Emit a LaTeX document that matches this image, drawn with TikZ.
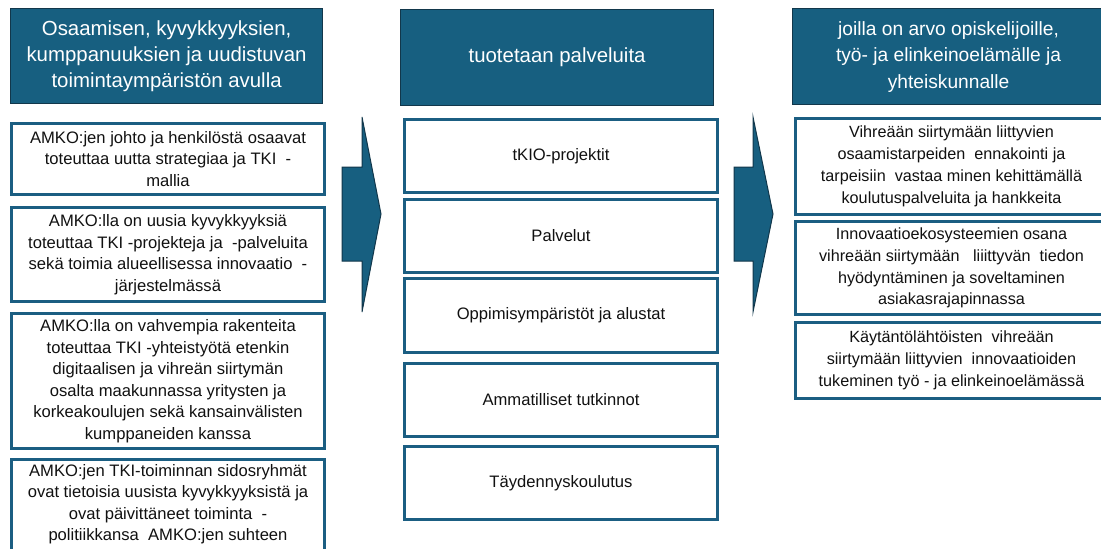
\documentclass[tikz,border=0pt]{standalone}
\usepackage{fontspec}
\setmainfont{Liberation Sans}
\definecolor{headblue}{HTML}{175F80}
\definecolor{headline}{HTML}{12374B}
\definecolor{boxblue}{HTML}{1B5E82}
\definecolor{ink}{HTML}{111111}
\begin{document}
\begin{tikzpicture}[x=1pt,y=-1pt,
  head/.style={draw=headline, line width=1.2pt, fill=headblue, text=white,
    anchor=north west, align=center, inner sep=0pt,
    font=\fontsize{20.4}{26}\selectfont},
  item/.style={draw=boxblue, line width=3pt, fill=white, text=ink,
    anchor=north west, align=center, inner sep=0pt,
    font=\fontsize{16.6}{21.5}\selectfont},
  leftitem/.style={item, font=\fontsize{16.6}{21.5}\selectfont},
  rightitem/.style={item, font=\fontsize{16.2}{21.8}\selectfont},
  blockarrow/.style={fill=headblue, draw=headline, line width=1pt, line join=miter}]
\useasboundingbox (0,0) rectangle (1101,549);
\clip (0,0) rectangle (1101,549);

% left column
\node[head, minimum width=312, minimum height=95] (h1) at (10,8)
  {Osaamisen, kyvykkyyksien,\\kumppanuuksien ja uudistuvan\\toimintaympäristön avulla};
\node[leftitem, minimum width=313, minimum height=71] (l1) at (10,122)
  {AMKO:jen johto ja henkilöstä osaavat\\toteuttaa uutta strategiaa ja TKI \ -\\mallia};
\node[leftitem, minimum width=313, minimum height=94] (l2) at (10,206)
  {AMKO:lla on uusia kyvykkyyksiä\\toteuttaa TKI -projekteja ja \ -palveluita\\sekä toimia alueellisessa innovaatio \ -\\järjestelmässä};
\node[leftitem, minimum width=313, minimum height=135] (l3) at (10,312)
  {AMKO:lla on vahvempia rakenteita\\toteuttaa TKI -yhteistyötä etenkin\\digitaalisen ja vihreän siirtymän\\osalta maakunnassa yritysten ja\\korkeakoulujen sekä kansainvälisten\\kumppaneiden kanssa};
\node[leftitem, minimum width=313, minimum height=102] (l4) at (10,458) {};
\node[align=center, text=ink, font=\fontsize{16.6}{21.5}\selectfont, anchor=north, inner sep=0pt]
  (l4t) at (l4.north |- 0,464)
  {AMKO:jen TKI-toiminnan sidosryhmät\\ovat tietoisia uusista kyvykkyyksistä ja\\ovat päivittäneet toiminta \ -\\politiikkansa \ AMKO:jen suhteen};

% first block arrow
\draw[blockarrow] (342,167) -- (362,167) -- (362,117) -- (381,214)
  -- (362,312) -- (362,261) -- (342,261) -- cycle;

% middle column
\node[head, minimum width=313, minimum height=96] (h2) at (400,9)
  {tuotetaan palveluita};
\node[item, minimum width=313, minimum height=73] (m1) at (403,118) {tKIO-projektit};
\node[item, minimum width=313, minimum height=73] (m2) at (403,198) {Palvelut};
\node[item, minimum width=313, minimum height=74] (m3) at (403,277) {Oppimisympäristöt ja alustat};
\node[item, minimum width=313, minimum height=73] (m4) at (403,362) {Ammatilliset tutkinnot};
\node[item, minimum width=313, minimum height=73] (m5) at (403,445) {Täydennyskoulutus};

% second block arrow
\draw[blockarrow] (734,167) -- (753,167) -- (753,117) -- (773,214)
  -- (753,312) -- (753,261) -- (734,261) -- cycle;

% right column
\node[head, minimum width=312, minimum height=96, font=\fontsize{19.2}{26.5}\selectfont] (h3) at (792,8)
  {joilla on arvo opiskelijoille,\\työ- ja elinkeinoelämälle ja\\yhteiskunnalle};
\node[rightitem, minimum width=312, minimum height=96] (r1) at (794,117)
  {Vihreään siirtymään liittyvien\\osaamistarpeiden \ ennakointi ja\\tarpeisiin \ vastaa minen kehittämällä\\koulutuspalveluita ja hankkeita};
\node[rightitem, minimum width=312, minimum height=93] (r2) at (794,220)
  {Innovaatioekosysteemien osana\\vihreään siirtymään \ \ liiittyvän \ tiedon\\hyödyntäminen ja soveltaminen\\asiakasrajapinnassa};
\node[rightitem, minimum width=312, minimum height=76] (r3) at (794,321)
  {Käytäntölähtöisten \ vihreään\\siirtymään liittyvien \ innovaatioiden\\tukeminen työ - ja elinkeinoelämässä};
\end{tikzpicture}
\end{document}
